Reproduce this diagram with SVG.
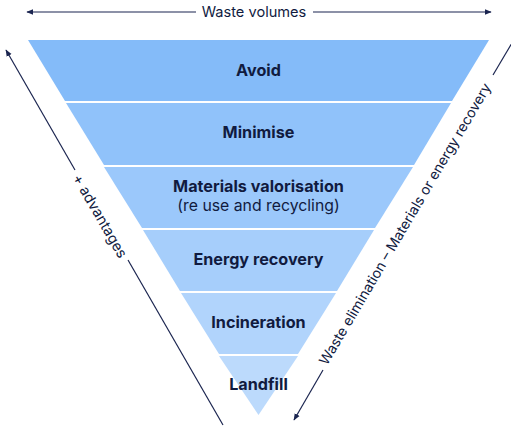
<svg xmlns="http://www.w3.org/2000/svg" width="511" height="428" viewBox="0 0 511 428">
<defs>
<marker id="ah" viewBox="0 0 10 10" refX="9" refY="5" markerWidth="7" markerHeight="7" orient="auto-start-reverse" markerUnits="userSpaceOnUse">
<path d="M0,1 L10,5 L0,9 z" fill="#1B2550"/>
</marker>
<style>
.lbl{font-family:Inter,"Noto Sans",sans-serif;font-weight:700;font-size:16.2px;fill:#111B3F;text-anchor:middle}
.sub{font-family:Inter,"Noto Sans",sans-serif;font-weight:400;font-size:15.8px;fill:#111B3F;text-anchor:middle}
.ax{font-family:Inter,"Noto Sans",sans-serif;font-weight:400;font-size:14.6px;fill:#111B3F;text-anchor:middle}
.ln{stroke:#1B2550;stroke-width:1.2;fill:none}
</style>
</defs>
<rect width="511" height="428" fill="#ffffff"/>
<g id="connectors">
<line class="ln" x1="196" y1="12" x2="27" y2="12" marker-end="url(#ah)"/>
<line class="ln" x1="313" y1="12" x2="491" y2="12" marker-end="url(#ah)"/>
<line class="ln" x1="75" y1="170" x2="6" y2="50" marker-end="url(#ah)"/>
<line class="ln" x1="128" y1="260" x2="223" y2="425"/>
<line class="ln" x1="512" y1="43" x2="493" y2="75"/>
<line class="ln" x1="323" y1="370" x2="294" y2="420" marker-end="url(#ah)"/>
</g>
<g id="avoid">
<polygon points="28,40 489,40 452,101 65,101" fill="#84BBF9"/>
<text class="lbl" x="258.5" y="76">Avoid</text>
</g>
<g id="minimise">
<polygon points="66,103 451,103 414,165 104,165" fill="#90C2FA"/>
<text class="lbl" x="258.5" y="138">Minimise</text>
</g>
<g id="materials">
<polygon points="104,167 413,167 375,228 142,228" fill="#9BC8FB"/>
<text class="lbl" x="258.5" y="192">Materials valorisation</text>
<text class="sub" x="258.5" y="211">(re use and recycling)</text>
</g>
<g id="energy">
<polygon points="143,230 374,230 337,291 180,291" fill="#A6CEFB"/>
<text class="lbl" x="258.5" y="265">Energy recovery</text>
</g>
<g id="incineration">
<polygon points="181,293 336,293 298,354 219,354" fill="#B1D4FC"/>
<text class="lbl" x="258.5" y="328">Incineration</text>
</g>
<g id="landfill">
<polygon points="219,356 298,356 258.5,415" fill="#BCDAFC"/>
<text class="lbl" x="258.5" y="390">Landfill</text>
</g>
<text class="ax" x="254" y="17">Waste volumes</text>
<text class="ax" transform="translate(100,216) rotate(60)" y="5">+ advantages</text>
<text class="ax" style="font-size:14.1px" transform="translate(405,224) rotate(-59.5)" y="5">Waste elimination – Materials or energy recovery</text>
</svg>
